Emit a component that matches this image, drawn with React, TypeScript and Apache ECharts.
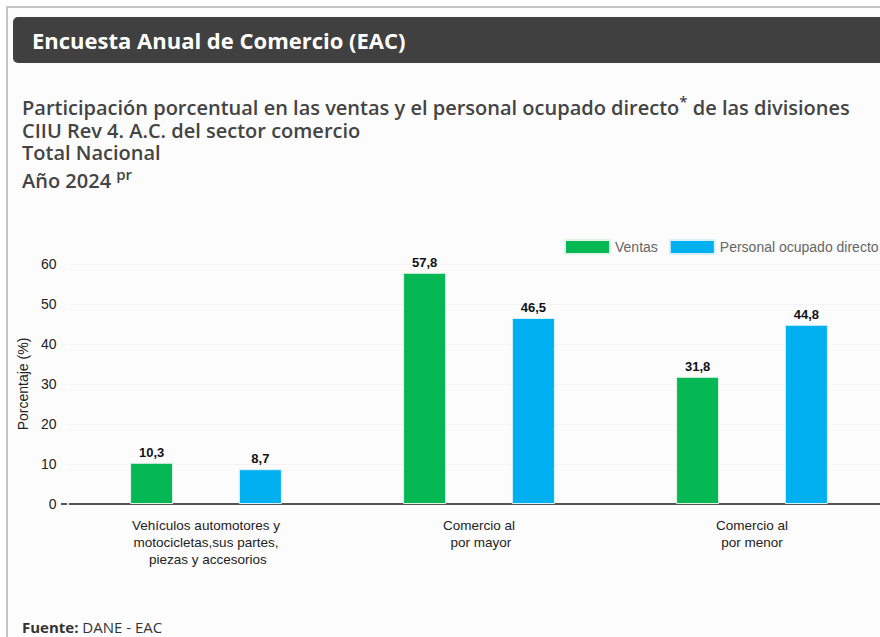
import React, { useEffect, useRef } from "react";
import * as echarts from "echarts";

const categories = [
  "Vehículos automotores y\nmotocicletas,sus partes,\n piezas y accesorios",
  "Comercio al\n por mayor",
  "Comercio al\npor menor",
];
const seriesNames = ["Ventas", "Personal ocupado directo"];
const ventas = [10.3, 57.8, 31.8];
const personal = [8.7, 46.5, 44.8];
const yMin = 0;
const yMax = 60;
const yInterval = 10;

const fmt = (v: number) => v.toFixed(1).replace(".", ",");

export default function App() {
  const ref = useRef<HTMLDivElement>(null);
  useEffect(() => {
    if (!ref.current) return;
    const chart = echarts.init(ref.current, undefined, { renderer: "svg" });
    const font = "Arial, Liberation Sans, sans-serif";
    const labelStyle = {
      show: true,
      position: "top" as const,
      distance: 4,
      color: "#111",
      fontWeight: "bold" as const,
      fontSize: 13,
      fontFamily: font,
      formatter: (p: any) => fmt(p.value),
    };
    chart.setOption({
      animation: false,
      backgroundColor: "transparent",
      textStyle: { fontFamily: font },
      legend: {
        left: 559,
        top: 234,
        itemWidth: 45,
        itemHeight: 14,
        itemGap: 11,
        icon: "rect",
        data: seriesNames,
        textStyle: { color: "#666", fontSize: 14, fontFamily: font },
      },
      grid: { left: 69.5, right: 11.5, top: 264, bottom: 133, containLabel: false },
      xAxis: {
        type: "category",
        data: categories,
        axisLine: { show: true, lineStyle: { color: "#555", width: 2 } },
        axisTick: { show: false },
        axisLabel: {
          color: "#222",
          fontSize: 13.5,
          margin: 13,
          lineHeight: 17,
          align: "center",
          fontFamily: font,
        },
      },
      yAxis: {
        type: "value",
        min: yMin,
        max: yMax,
        interval: yInterval,
        name: "Porcentaje (%)",
        nameLocation: "middle",
        nameGap: 38,
        nameTextStyle: { color: "#222", fontSize: 14, fontFamily: font },
        axisLine: { show: false },
        axisTick: { show: false },
        splitLine: { show: true, lineStyle: { color: "#f4f4f4", width: 1 } },
        axisLabel: { color: "#222", fontSize: 14, margin: 13, fontFamily: font },
      },
      series: [
        {
          name: seriesNames[0],
          type: "bar",
          data: ventas,
          barWidth: 43,
          barGap: "153%",
          itemStyle: { color: "#06B853", borderColor: "#dff3e6", borderWidth: 1 },
          label: labelStyle,
        },
        {
          name: seriesNames[1],
          type: "bar",
          data: personal,
          barWidth: 43,
          itemStyle: { color: "#00B0F0", borderColor: "#d8f0fa", borderWidth: 1 },
          label: labelStyle,
        },
      ],
      graphic: [
        { type: "line", shape: { x1: 61, y1: 504, x2: 67, y2: 504 }, style: { stroke: "#555", lineWidth: 2 } },
      ],
    });
    return () => chart.dispose();
  }, []);

  const titleStyle: React.CSSProperties = {
    position: "absolute",
    left: 22,
    fontFamily: "'Open Sans', sans-serif",
    fontWeight: 600,
    fontSize: 20,
    color: "#444",
    whiteSpace: "nowrap",
    lineHeight: "20px",
    height: 20,
  };

  return (
    <div style={{ position: "fixed", left: 0, top: 0, width: 880, height: 637, overflow: "hidden", background: "#fff" }}>
      <div
        style={{
          position: "absolute",
          left: 6,
          top: 6,
          width: 900,
          height: 700,
          borderLeft: "2px solid #c4c4c4",
          borderTop: "2px solid #c4c4c4",
          background: "#fcfcfc",
        }}
      />
      <div
        style={{
          position: "absolute",
          left: 13,
          top: 17,
          width: 900,
          height: 46,
          background: "#404040",
          borderRadius: 5,
        }}
      />
      <div
        style={{
          position: "absolute",
          left: 32,
          top: 17,
          height: 46,
          lineHeight: "46px",
          color: "#fff",
          fontFamily: "'Open Sans', sans-serif",
          fontWeight: 700,
          fontSize: 22,
          whiteSpace: "nowrap",
        }}
      >
        Encuesta Anual de Comercio (EAC)
      </div>
      <div style={{ ...titleStyle, top: 98 }}>
        Participación porcentual en las ventas y el personal ocupado directo
        <span style={{ fontSize: 15, lineHeight: 0, position: "relative", top: -8 }}>*</span> de las divisiones
      </div>
      <div style={{ ...titleStyle, top: 121 }}>CIIU Rev 4. A.C. del sector comercio</div>
      <div style={{ ...titleStyle, top: 143 }}>Total Nacional</div>
      <div style={{ ...titleStyle, top: 171 }}>
        Año 2024 <span style={{ fontSize: 15, lineHeight: 0, position: "relative", top: -8 }}>pr</span>
      </div>
      <div
        style={{
          position: "absolute",
          left: 22,
          top: 617,
          fontFamily: "'Open Sans', sans-serif",
          fontSize: 15,
          color: "#333",
          whiteSpace: "nowrap",
          lineHeight: "20px",
        }}
      >
        <b>Fuente:</b> DANE - EAC
      </div>
      <div ref={ref} style={{ position: "absolute", left: 0, top: 0, width: 900, height: 637 }} />
    </div>
  );
}
